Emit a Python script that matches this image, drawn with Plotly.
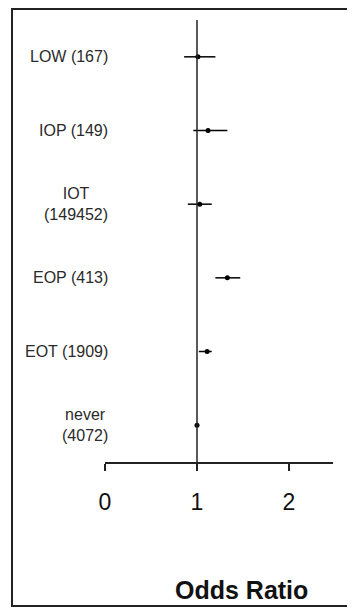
import plotly.graph_objects as go

# Data
groups = ["never<br>(4072)", "EOT (1909)", "EOP (413)", "IOT<br>(149452)", "IOP (149)", "LOW (167)"]
odds_ratio = [1.00, 1.11, 1.33, 1.03, 1.12, 1.01]
ci_low = [1.00, 1.02, 1.20, 0.90, 0.96, 0.86]
ci_high = [1.00, 1.16, 1.47, 1.16, 1.33, 1.20]
x_ticks = [0, 1, 2]
x_ticklabels = ["0", "1", "2"]
ref_value = 1

OFF = 8  # page body margin
W, H = 355 - OFF, 608 - OFF
ML, MR, MT, MB = 105 - OFF, 22, 20 - OFF, 608 - 462
pw, ph = W - ML - MR, H - MT - MB

ypos = list(range(len(groups)))
err_plus = [h - o for h, o in zip(ci_high, odds_ratio)]
err_minus = [o - l for o, l in zip(odds_ratio, ci_low)]

fig = go.Figure()
fig.add_trace(go.Scatter(
    x=odds_ratio, y=ypos, mode="markers",
    marker=dict(color="black", size=5),
    error_x=dict(type="data", symmetric=False, array=err_plus, arrayminus=err_minus,
                 color="black", thickness=1.5, width=0),
    showlegend=False, hoverinfo="skip"))

# reference line at OR = 1
fig.add_shape(type="line", xref="x", yref="y", x0=ref_value, x1=ref_value, y0=-0.5, y1=5.5,
              line=dict(color="#222", width=1.5))

# frame (positions in reference page pixels)
def px_x(p): return (p - OFF - ML) / pw
def px_y(p): return (MT + ph - (p - OFF)) / ph
fig.add_shape(type="rect", xref="paper", yref="paper",
              x0=px_x(12), x1=px_x(370), y0=px_y(606), y1=px_y(9),
              line=dict(color="#222", width=2), fillcolor="rgba(0,0,0,0)", layer="below")

for g, y in zip(groups, ypos):
    fig.add_annotation(x=px_x(110), xref="paper", y=y, yref="y", text=g, showarrow=False,
                       xanchor="right", align="center",
                       font=dict(family="Liberation Sans, Arial", size=16, color="#2a2a2a"))

fig.add_annotation(x=px_x(241), y=px_y(590), xref="paper", yref="paper", text="<b>Odds Ratio</b>",
                   showarrow=False, xanchor="center", yanchor="middle",
                   font=dict(family="Liberation Sans, Arial", size=25, color="#111"))

fig.update_layout(
    width=W, height=H, margin=dict(l=ML, r=MR, t=MT, b=MB),
    plot_bgcolor="white", paper_bgcolor="white",
    xaxis=dict(range=[0, pw / 92], tickvals=x_ticks, ticktext=x_ticklabels,
               showline=True, linecolor="#222", linewidth=1.5, ticks="outside",
               ticklen=7, tickcolor="#222", tickwidth=1.5, showgrid=False, zeroline=False,
               ticklabelstandoff=12,
               tickfont=dict(family="Liberation Sans, Arial", size=23, color="#111")),
    yaxis=dict(range=[-0.5, 5.5], showticklabels=False, showgrid=False, zeroline=False,
               showline=False, ticks=""),
)
fig.write_html("out.html")
